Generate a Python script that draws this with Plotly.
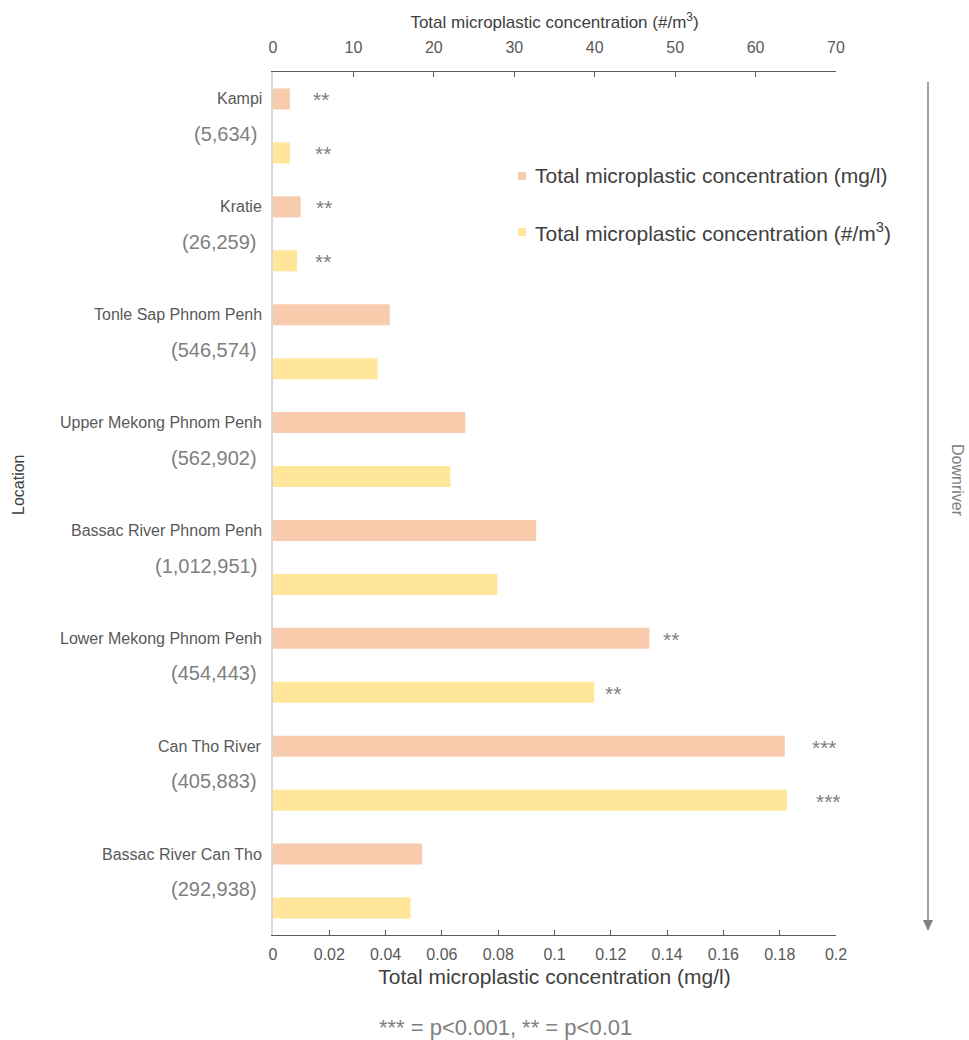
import plotly.graph_objects as go

# Sampling locations, ordered downriver, with catchment population
locations = ["Kampi", "Kratie", "Tonle Sap Phnom Penh", "Upper Mekong Phnom Penh",
             "Bassac River Phnom Penh", "Lower Mekong Phnom Penh", "Can Tho River",
             "Bassac River Can Tho"]
population = ["(5,634)", "(26,259)", "(546,574)", "(562,902)", "(1,012,951)",
              "(454,443)", "(405,883)", "(292,938)"]

# Concentrations
mass_mg_l = [0.006, 0.0098, 0.0415, 0.0683, 0.0935, 0.1337, 0.1818, 0.053]
count_m3 = [2.1, 3.0, 13.0, 22.05, 27.9, 39.95, 63.9, 17.1]

# Significance markers (mass, count)
sig_mass = ["**", "**", "", "", "", "**", "***", ""]
sig_count = ["**", "**", "", "", "", "**", "***", ""]
sig_mass_gap = [21, 13, 0, 0, 0, 12, 25, 0]
sig_count_gap = [23, 16, 0, 0, 0, 9, 27, 0]

x_ticks_mass = [0, 0.02, 0.04, 0.06, 0.08, 0.1, 0.12, 0.14, 0.16, 0.18, 0.2]
x_tick_text_mass = ["0", "0.02", "0.04", "0.06", "0.08", "0.1", "0.12", "0.14", "0.16", "0.18", "0.2"]
x_ticks_count = [0, 10, 20, 30, 40, 50, 60, 70]

ORANGE = "#F8CBAD"
YELLOW = "#FFE699"
FONT = "Liberation Sans, Arial, sans-serif"
DARK = "#595959"
TITLE = "#404040"
GREY = "#808080"

W, H = 969, 1040
L, R, T, B = 273, 836, 72, 935


def px_x(p):
    return (p - L) / (R - L)


def px_y(p):
    return (B - p) / (B - T)


pos_mass = [2 * i for i in range(len(locations))]
pos_count = [2 * i + 1 for i in range(len(locations))]

fig = go.Figure()
fig.add_trace(go.Bar(
    x=mass_mg_l, y=pos_mass, orientation="h", width=0.39,
    marker=dict(color=ORANGE, line=dict(width=0)),
    name="Total microplastic concentration (mg/l)", xaxis="x", yaxis="y",
    showlegend=False,
))
fig.add_trace(go.Bar(
    x=count_m3, y=pos_count, orientation="h", width=0.39,
    marker=dict(color=YELLOW, line=dict(width=0)),
    name="Total microplastic concentration (#/m3)", xaxis="x2", yaxis="y",
    showlegend=False,
))

annotations = []
for i, (loc, pop) in enumerate(zip(locations, population)):
    annotations.append(dict(
        x=0, xref="paper", y=pos_mass[i], yref="y", text=loc, showarrow=False,
        xanchor="right", yanchor="middle", xshift=-9,
        font=dict(family=FONT, size=16, color=DARK),
    ))
    annotations.append(dict(
        x=0, xref="paper", y=pos_mass[i] + 0.65, yref="y", text=pop, showarrow=False,
        xanchor="right", yanchor="middle", xshift=-14,
        font=dict(family=FONT, size=20, color=GREY),
    ))
    if sig_mass[i]:
        annotations.append(dict(
            x=mass_mg_l[i], xref="x", y=pos_mass[i], yref="y", text=sig_mass[i],
            showarrow=False, xanchor="left", yanchor="middle",
            xshift=sig_mass_gap[i], yshift=-1,
            font=dict(family=FONT, size=21, color=GREY),
        ))
    if sig_count[i]:
        annotations.append(dict(
            x=count_m3[i], xref="x2", y=pos_count[i], yref="y", text=sig_count[i],
            showarrow=False, xanchor="left", yanchor="middle",
            xshift=sig_count_gap[i], yshift=-1,
            font=dict(family=FONT, size=21, color=GREY),
        ))

# Legend entries
legend_rows = [("Total microplastic concentration (mg/l)", ORANGE, 176),
               ("Total microplastic concentration (#/m<sup>3</sup>)", YELLOW, 232)]
shapes = []
for label, color, ypix in legend_rows:
    shapes.append(dict(type="rect", xref="paper", yref="paper",
                       x0=px_x(518), x1=px_x(526), y0=px_y(ypix + 4), y1=px_y(ypix - 4),
                       fillcolor=color, line=dict(width=0)))
    annotations.append(dict(
        x=px_x(533), xref="paper", y=px_y(ypix), yref="paper", text=label,
        showarrow=False, xanchor="left", yanchor="middle",
        font=dict(family=FONT, size=21, color=TITLE),
    ))

# Downriver arrow
shapes.append(dict(type="line", xref="paper", yref="paper",
                   x0=px_x(928), x1=px_x(928), y0=px_y(82), y1=px_y(922),
                   line=dict(color=GREY, width=1.5)))
shapes.append(dict(type="path", xref="paper", yref="paper",
                   path="M {a},{b} L {c},{b} L {d},{e} Z".format(
                       a=px_x(923), b=px_y(920), c=px_x(933), d=px_x(928), e=px_y(931)),
                   fillcolor=GREY, line=dict(width=0)))
annotations.append(dict(
    x=px_x(958), xref="paper", y=px_y(480), yref="paper", text="Downriver",
    showarrow=False, textangle=90, xanchor="center", yanchor="middle",
    font=dict(family=FONT, size=16, color=GREY),
))

# Location label
annotations.append(dict(
    x=px_x(18), xref="paper", y=px_y(485), yref="paper", text="Location",
    showarrow=False, textangle=-90, xanchor="center", yanchor="middle",
    font=dict(family=FONT, size=16, color=TITLE),
))

# Footnote
annotations.append(dict(
    x=px_x(505), xref="paper", y=px_y(1027), yref="paper",
    text="*** = p&lt;0.001, ** = p&lt;0.01",
    showarrow=False, xanchor="center", yanchor="middle",
    font=dict(family=FONT, size=22, color=GREY),
))

fig.update_layout(
    width=W, height=H,
    margin=dict(l=L, r=W - R, t=T, b=H - B),
    paper_bgcolor="white", plot_bgcolor="white",
    barmode="overlay",
    font=dict(family=FONT, color=DARK),
    xaxis=dict(
        range=[0, 0.2], tickvals=x_ticks_mass, ticktext=x_tick_text_mass,
        showgrid=False, zeroline=False, showline=True, linecolor=DARK, linewidth=1,
        ticks="inside", ticklen=5, tickcolor=DARK, ticklabelstandoff=5,
        tickfont=dict(family=FONT, size=16, color=DARK),
        title=dict(text="Total microplastic concentration (mg/l)",
                   font=dict(family=FONT, size=21, color=TITLE), standoff=7),
    ),
    xaxis2=dict(
        range=[0, 70], tickvals=x_ticks_count, overlaying="x", side="top",
        showgrid=False, zeroline=False, showline=True, linecolor=DARK, linewidth=1,
        ticks="inside", ticklen=5, tickcolor=DARK, ticklabelstandoff=12,
        tickfont=dict(family=FONT, size=16, color=DARK),
        title=dict(text="Total microplastic concentration (#/m<sup>3</sup>)",
                   font=dict(family=FONT, size=17, color=TITLE), standoff=5),
    ),
    yaxis=dict(
        range=[15.5, -0.5], showticklabels=False, ticks="", showgrid=False,
        zeroline=False, showline=True, linecolor="#D9D9D9", linewidth=1.5,
    ),
    shapes=shapes,
    annotations=annotations,
)

fig.write_html("out.html")
